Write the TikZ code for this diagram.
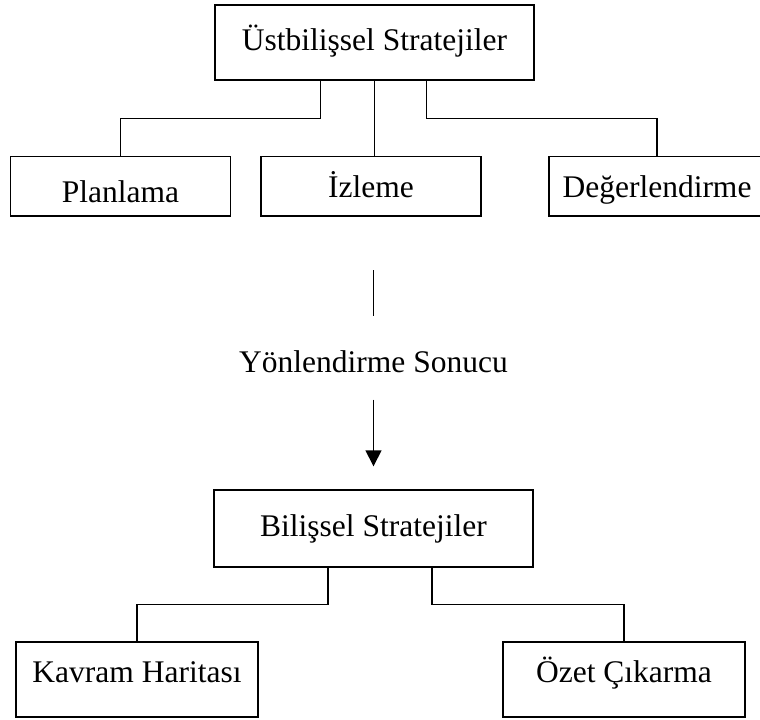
\documentclass[tikz,border=0pt]{standalone}
\usepackage{fontspec}
\setmainfont{Liberation Serif}
\usetikzlibrary{arrows.meta}

\begin{document}
\begin{tikzpicture}[x=0.5pt,y=-0.5pt,line width=0.7pt,
    font=\fontsize{15.75pt}{18pt}\selectfont,
    head/.style={draw, inner sep=0pt, minimum width=159.5pt, minimum height=37.5pt, text height=10.5pt, text depth=3pt},
    sub/.style={draw, inner sep=0pt, minimum width=110pt, minimum height=29.75pt, text height=11pt, text depth=0pt},
    leaf/.style={draw, inner sep=0pt, minimum width=121pt, minimum height=37.5pt, text height=10.5pt, text depth=7.5pt}]
    \useasboundingbox (0,0) rectangle (760,719);
    \node[head] (ust) at (374.5,42.5) {Üstbilişsel Stratejiler};
    \node[sub, text height=16pt] (plan) at (120.5,186.25) {Planlama};
    \node[sub] (izl) at (371,186.25) {İzleme};
    \node[sub, minimum width=108pt] (deg) at (657,186.25) {Değerlendirme};
    \node[inner sep=0pt, minimum height=41pt, text height=14pt, text depth=0pt] (yon) at (373.5,358) {Yönlendirme Sonucu};
    \node[head, minimum height=38.5pt] (bil) at (373.5,528.5) {Bilişsel Stratejiler};
    \node[leaf] (kav) at (137,679.5) {Kavram Haritası};
    \node[leaf] (ozet) at (624,679.5) {Özet Çıkarma};
    \coordinate (gap) at (373.5,270);
    \draw ([xshift=-27pt]ust.south) -- ++(0,38) -| (plan.north);
    \draw (ust.south) -- (ust.south |- izl.north);
    \draw ([xshift=26pt]ust.south) -- ++(0,38) -| (deg.north);
    \draw (gap) -- (yon.north);
    \draw[-{Triangle[width=8pt,length=8pt]}, shorten >=11.5pt] (yon.south) -- (bil.north);
    \draw ([xshift=-22.75pt]bil.south) -- ++(0,37) -| (kav.north);
    \draw ([xshift=29.25pt]bil.south) -- ++(0,37) -| (ozet.north);
  \end{tikzpicture}
\end{document}
